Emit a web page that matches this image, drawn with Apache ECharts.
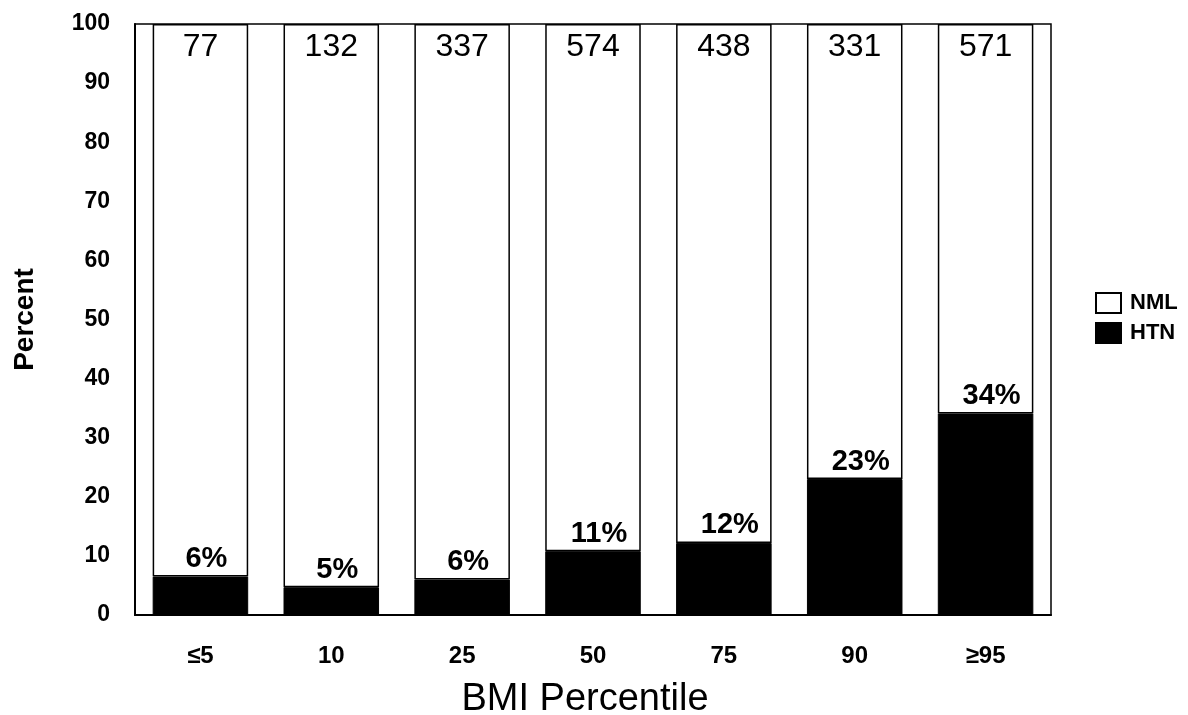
<!DOCTYPE html>
<html><head><meta charset="utf-8">
<script src="https://cdn.jsdelivr.net/npm/echarts@6/dist/echarts.min.js"></script>
<style>html,body{margin:0;padding:0;background:#fff}#c{width:1188px;height:715px}</style>
</head><body><div id="c"></div>
<script>
var categories = ['≤5', '10', '25', '50', '75', '90', '≥95'];
var htnValues = [6.5, 4.7, 6.0, 10.8, 12.2, 23.0, 34.1];
var htnLabels = ['6%', '5%', '6%', '11%', '12%', '23%', '34%'];
var counts = [77, 132, 337, 574, 438, 331, 571];
var nmlValues = htnValues.map(function (v) { return +(100 - v).toFixed(1); });
var yTicks = [0, 10, 20, 30, 40, 50, 60, 70, 80, 90, 100];

var font = '"Liberation Sans", Arial, sans-serif';
var chart = echarts.init(document.getElementById('c'));
chart.setOption({
  animation: false,
  backgroundColor: '#fff',
  grid: { left: 135, right: 137, top: 24, bottom: 100, containLabel: false, outerBoundsMode: 'none',
    show: true, borderColor: '#000', borderWidth: 1.5, backgroundColor: 'transparent' },
  legend: {
    orient: 'vertical', left: 1090, top: 287, itemWidth: 25, itemHeight: 20, itemGap: 8,
    icon: 'rect',
    textStyle: { fontFamily: font, fontWeight: 'bold', fontSize: 22, color: '#000', padding: [0, 0, 0, 4] },
    data: [
      { name: 'NML', itemStyle: { color: '#fff', borderColor: '#000', borderWidth: 2 } },
      { name: 'HTN', itemStyle: { color: '#000' } }
    ]
  },
  xAxis: {
    type: 'category', data: categories,
    name: 'BMI Percentile', nameLocation: 'middle', nameGap: 66,
    nameTextStyle: { fontFamily: font, fontSize: 38, color: '#000', padding: [0, 16, 0, 0] },
    axisLine: { lineStyle: { color: '#000', width: 2 } },
    axisTick: { show: false },
    axisLabel: { fontFamily: font, fontWeight: 'bold', fontSize: 24, color: '#000', margin: 29 }
  },
  yAxis: {
    type: 'value', min: 0, max: 100, interval: 10,
    name: 'Percent', nameLocation: 'middle', nameGap: 96,
    nameTextStyle: { fontFamily: font, fontWeight: 'bold', fontSize: 28, color: '#000' },
    axisLine: { show: true, lineStyle: { color: '#000', width: 2 } },
    axisTick: { show: false },
    splitLine: { show: false },
    axisLabel: { fontFamily: font, fontWeight: 'bold', fontSize: 23, color: '#000', margin: 25,
      formatter: function (v) { return yTicks.indexOf(v) >= 0 ? String(v) : ''; } }
  },
  series: [
    {
      name: 'HTN', type: 'bar', stack: 'a', barWidth: '73%', data: htnValues,
      itemStyle: { color: '#000', borderColor: '#000', borderWidth: 1 },
      label: { show: true, position: 'top', distance: 3, offset: [6, 0], fontFamily: font, fontWeight: 'bold', fontSize: 29, color: '#000',
        formatter: function (p) { return htnLabels[p.dataIndex]; } },
      z: 3
    },
    {
      name: 'NML', type: 'bar', stack: 'a', barWidth: '73%', data: nmlValues,
      itemStyle: { color: '#fff', borderColor: '#000', borderWidth: 1.5 },
      label: { show: true, position: 'insideTop', distance: 7, fontFamily: font, fontSize: 32, color: '#000',
        formatter: function (p) { return String(counts[p.dataIndex]); } },
      z: 2
    }
  ]
});
</script></body></html>
